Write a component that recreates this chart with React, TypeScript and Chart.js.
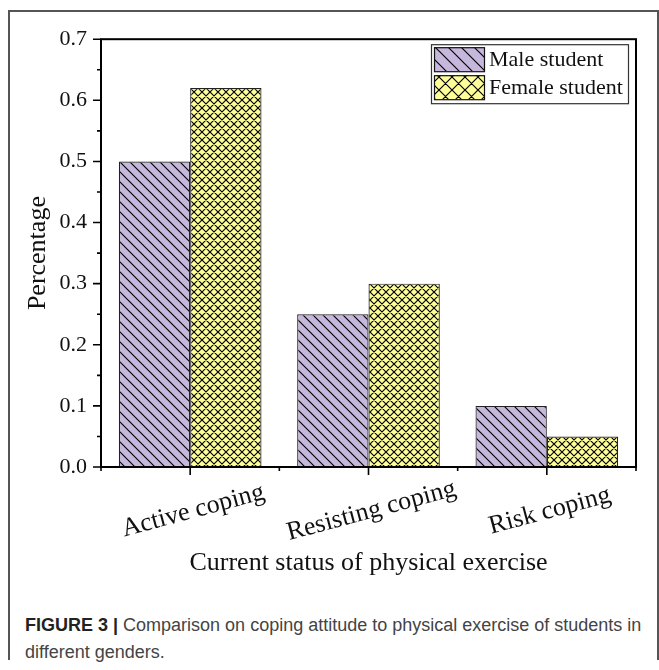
import React, { useEffect, useRef } from "react";
import { Chart, registerables } from "chart.js";

Chart.register(...registerables);

const categories = ["Active coping", "Resisting coping", "Risk coping"];
const maleValues = [0.5, 0.25, 0.1];
const femaleValues = [0.62, 0.3, 0.05];
const seriesLabels = ["Male student", "Female student"];
const xTitle = "Current status of physical exercise";
const yTitle = "Percentage";
const Y_MIN = 0;
const Y_MAX = 0.7;
const Y_STEP = 0.1;

const SERIF = "'Liberation Serif', 'Times New Roman', serif";
const MALE_BG = "#c6b7dc";
const FEMALE_BG = "#ffff99";

function makePattern(cross: boolean, bg: string, size: number): CanvasPattern | string {
  const c = document.createElement("canvas");
  c.width = size;
  c.height = size;
  const g = c.getContext("2d");
  if (!g) return bg;
  g.fillStyle = bg;
  g.fillRect(0, 0, size, size);
  g.strokeStyle = "#000";
  g.lineWidth = 1.15;
  g.beginPath();
  g.moveTo(-1, -1);
  g.lineTo(size + 1, size + 1);
  g.moveTo(size - 2, -2);
  g.lineTo(size + 2, 2);
  g.moveTo(-2, size - 2);
  g.lineTo(2, size + 2);
  if (cross) {
    g.moveTo(-1, size + 1);
    g.lineTo(size + 1, -1);
    g.moveTo(-2, 2);
    g.lineTo(2, -2);
    g.moveTo(size - 2, size + 2);
    g.lineTo(size + 2, size - 2);
  }
  g.stroke();
  return g.createPattern(c, "repeat") || bg;
}

export default function App() {
  const ref = useRef<HTMLCanvasElement | null>(null);

  useEffect(() => {
    if (!ref.current) return;
    const malePat = makePattern(false, MALE_BG, 10);
    const femalePat = makePattern(true, FEMALE_BG, 8);
    const maleLegPat = makePattern(false, MALE_BG, 13);
    const femaleLegPat = makePattern(true, FEMALE_BG, 13);

    const decor = {
      id: "decor",
      afterDatasetsDraw(chart: any) {
        const { ctx, chartArea: a, scales } = chart;
        const xs = scales.x;
        const ys = scales.y;
        ctx.save();
        // frame
        ctx.strokeStyle = "#000";
        ctx.lineWidth = 2;
        ctx.strokeRect(a.left, a.top, a.right - a.left, a.bottom - a.top);
        // y ticks (major + minor)
        ctx.lineWidth = 1.6;
        const nHalf = Math.round((Y_MAX - Y_MIN) / (Y_STEP / 2));
        ctx.beginPath();
        for (let i = 0; i <= nHalf; i++) {
          const v = Y_MIN + (i * Y_STEP) / 2;
          const py = ys.getPixelForValue(v);
          const len = i % 2 === 0 ? 8 : 4;
          ctx.moveTo(a.left - len, py);
          ctx.lineTo(a.left, py);
        }
        // x ticks
        for (let i = 0; i < categories.length; i++) {
          const px = xs.getPixelForValue(i);
          ctx.moveTo(px, a.bottom);
          ctx.lineTo(px, a.bottom + 8);
        }
        for (let i = 0; i <= categories.length; i++) {
          const px = xs.getPixelForValue(i - 0.5);
          ctx.moveTo(px, a.bottom);
          ctx.lineTo(px, a.bottom + 4);
        }
        ctx.stroke();

        // x labels, rotated and centred on ticks
        ctx.fillStyle = "#111";
        ctx.font = `26px ${SERIF}`;
        ctx.textAlign = "center";
        ctx.textBaseline = "middle";
        for (let i = 0; i < categories.length; i++) {
          const px = xs.getPixelForValue(i);
          ctx.save();
          ctx.translate(px + 3, a.bottom + 44);
          ctx.rotate((-15 * Math.PI) / 180);
          ctx.fillText(categories[i], 0, 0);
          ctx.restore();
        }

        // legend
        const bw = 197;
        const bh = 59;
        const bx = a.right - 8 - bw;
        const by = a.top + 5;
        ctx.fillStyle = "#fff";
        ctx.fillRect(bx, by, bw, bh);
        ctx.strokeStyle = "#333";
        ctx.lineWidth = 1.2;
        ctx.strokeRect(bx + 0.5, by + 0.5, bw, bh);
        const pats = [maleLegPat, femaleLegPat];
        chart.data.datasets.forEach((ds: any, k: number) => {
          const py = by + 3 + k * 28;
          ctx.fillStyle = pats[k];
          ctx.fillRect(bx + 3, py, 50, 24);
          ctx.strokeStyle = "#111";
          ctx.lineWidth = 1.2;
          ctx.strokeRect(bx + 3.5, py + 0.5, 50, 24);
          ctx.fillStyle = "#111";
          ctx.font = `22px ${SERIF}`;
          ctx.textAlign = "left";
          ctx.textBaseline = "middle";
          ctx.fillText(ds.label, bx + 58, py + 13);
        });
        ctx.restore();
      },
    };

    const chart = new Chart(ref.current, {
      type: "bar",
      data: {
        labels: categories,
        datasets: [
          {
            label: seriesLabels[0],
            data: maleValues,
            backgroundColor: malePat as any,
            borderColor: "#222",
            borderWidth: 1.2,
            categoryPercentage: 0.8,
            barPercentage: 1.0,
          },
          {
            label: seriesLabels[1],
            data: femaleValues,
            backgroundColor: femalePat as any,
            borderColor: "#222",
            borderWidth: 1.2,
            categoryPercentage: 0.8,
            barPercentage: 1.0,
          },
        ],
      },
      options: {
        responsive: false,
        animation: false,
        events: [],
        layout: { padding: { left: 0, top: 22, right: 19, bottom: 0 } },
        plugins: {
          legend: { display: false },
          tooltip: { enabled: false },
        },
        scales: {
          x: {
            grid: { display: false, drawTicks: false },
            border: { display: false },
            ticks: { display: false },
            title: {
              display: true,
              text: xTitle,
              color: "#111",
              font: { family: SERIF, size: 26 },
              padding: { top: 0, bottom: 13 },
            },
            afterFit: (s: any) => {
              s.height = 125;
            },
          },
          y: {
            min: Y_MIN,
            max: Y_MAX,
            grid: { display: false, drawTicks: false },
            border: { display: false },
            ticks: {
              stepSize: Y_STEP,
              padding: 14,
              color: "#111",
              font: { family: SERIF, size: 22 },
              callback: (v: any) => Number(v).toFixed(1),
            },
            title: {
              display: true,
              text: yTitle,
              color: "#111",
              font: { family: SERIF, size: 26 },
              padding: { top: 13, bottom: 0 },
            },
            afterFit: (s: any) => {
              s.width = 91;
            },
          },
        },
      },
      plugins: [decor],
    });
    return () => chart.destroy();
  }, []);

  return (
    <div
      style={{
        position: "absolute",
        left: 8,
        top: 10,
        width: 647,
        height: 648,
        borderTop: "2px solid #555",
        borderLeft: "2px solid #555",
        borderRight: "2px solid #555",
      }}
    >
      <canvas
        ref={ref}
        width={645}
        height={580}
        style={{ position: "absolute", left: 0, top: 0, width: 645, height: 580 }}
      />
      <div
        style={{
          position: "absolute",
          left: 15,
          top: 600,
          whiteSpace: "nowrap",
          font: "18px 'Liberation Sans', Arial, sans-serif",
          lineHeight: "27px",
          color: "#444",
        }}
      >
        <b style={{ color: "#222" }}>FIGURE 3 |</b> Comparison on coping attitude to physical exercise of students in
        <br />
        different genders.
      </div>
    </div>
  );
}
